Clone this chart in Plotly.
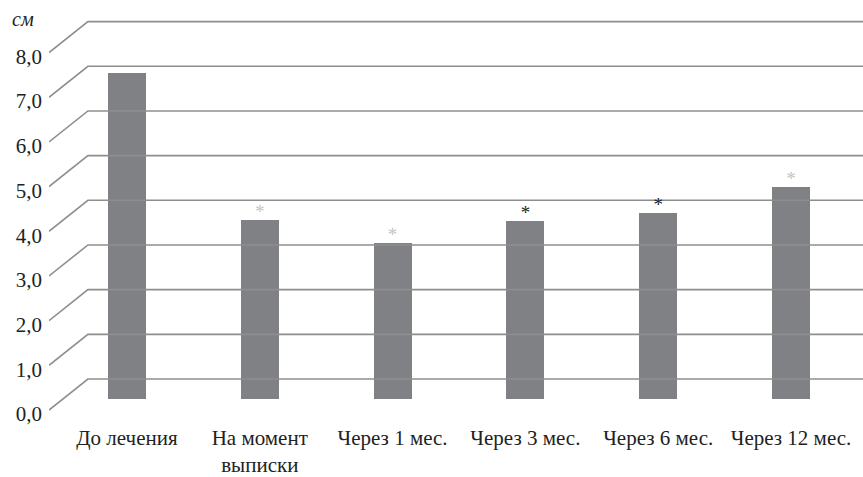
import plotly.graph_objects as go

categories = ["До лечения", "На момент<br>выписки", "Через 1 мес.", "Через 3 мес.", "Через 6 мес.", "Через 12 мес."]
values = [7.3, 4.0, 3.5, 3.98, 4.17, 4.74]
star_colors = ["rgba(0,0,0,0)", "#c4c4c4", "#c4c4c4", "#222222", "#222222", "#c4c4c4"]
star_text = ["", "*", "*", "*", "*", "*"]
grid_values = [0, 1, 2, 3, 4, 5, 6, 7, 8]
grid_labels = ["0,0", "1,0", "2,0", "3,0", "4,0", "5,0", "6,0", "7,0", "8,0"]
unit_label = "см"

BAR_COLOR = "#808185"
GRID_COLOR = "#8e8e8e"
FONT = "Liberation Serif"

# pseudo-3D depth offsets (in axis units)
X_MIN, X_MAX = -0.587, 5.542
Y_MIN, Y_MAX = -0.4, 8.933
X_FRONT, X_BACK = X_MIN, -0.294
FRONT_OFF, BACK_OFF = -0.244, 0.45
LABEL_OFF = -0.33
STAR_OFF = -0.06

fig = go.Figure()

for v in grid_values:
    fig.add_trace(go.Scatter(
        x=[X_FRONT, X_BACK, X_MAX + 0.1],
        y=[v + FRONT_OFF, v + BACK_OFF, v + BACK_OFF],
        mode="lines", line=dict(color=GRID_COLOR, width=1.6),
        hoverinfo="skip", showlegend=False))

xs = list(range(len(categories)))
fig.add_trace(go.Bar(x=xs, y=values, width=0.286, marker=dict(color=BAR_COLOR, line=dict(width=0)),
                     showlegend=False))

fig.add_trace(go.Scatter(
    x=xs, y=[v + STAR_OFF for v in values], mode="text", text=star_text, textposition="top center",
    textfont=dict(family=FONT, size=19, color=star_colors),
    hoverinfo="skip", showlegend=False, cliponaxis=False))

fig.add_annotation(xref="paper", yref="paper", x=-0.0315, y=1.0, xanchor="center", yanchor="middle",
                   yshift=-19, text=f"<i>{unit_label}</i>", showarrow=False,
                   font=dict(family=FONT, size=20, color="#222222"))

fig.update_layout(
    width=863, height=477,
    margin=dict(l=49, r=0, t=0, b=57),
    paper_bgcolor="white", plot_bgcolor="white",
    font=dict(family=FONT, color="#222222"),
    bargap=0,
    xaxis=dict(range=[X_MIN, X_MAX], tickvals=xs, ticktext=categories, showgrid=False,
               zeroline=False, showline=False, ticks="", ticklabelstandoff=6,
               tickfont=dict(family=FONT, size=21, color="#222222"), fixedrange=True),
    yaxis=dict(range=[Y_MIN, Y_MAX], tickvals=[v + LABEL_OFF for v in grid_values], ticktext=grid_labels,
               showgrid=False, zeroline=False, showline=False, ticks="", ticklabelstandoff=6,
               tickfont=dict(family=FONT, size=21, color="#222222"), fixedrange=True),
)

fig.write_html("out.html")
